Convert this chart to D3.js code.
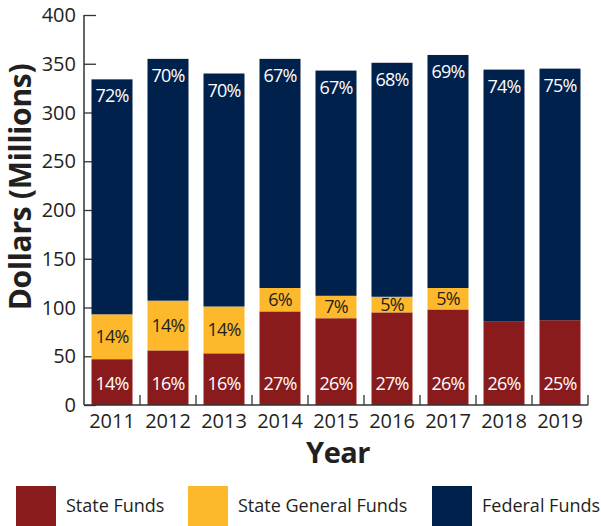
<!DOCTYPE html>
<html>
<head>
<meta charset="utf-8">
<script src="https://cdn.jsdelivr.net/npm/d3@7"></script>
<style>
  body { margin: 0; background: #fff; }
  text { font-family: "Open Sans", "Noto Sans", sans-serif; }
</style>
</head>
<body>
<div id="chart"></div>
<script>
const years = ["2011", "2012", "2013", "2014", "2015", "2016", "2017", "2018", "2019"];
const stateFunds = [47, 56, 53, 96, 89, 95, 98, 86, 87];
const generalFunds = [46, 51, 48, 24, 23, 16, 22, 0, 0];
const federalFunds = [241, 248, 239, 235, 231, 240, 239, 258, 258];
const statePct = ["14%", "16%", "16%", "27%", "26%", "27%", "26%", "26%", "25%"];
const generalPct = ["14%", "14%", "14%", "6%", "7%", "5%", "5%", "", ""];
const federalPct = ["72%", "70%", "70%", "67%", "67%", "68%", "69%", "74%", "75%"];
const yTicks = [0, 50, 100, 150, 200, 250, 300, 350, 400];

const seriesNames = ["State Funds", "State General Funds", "Federal Funds"];
const colors = ["#8a1b1c", "#fdb82b", "#01214d"];

const width = 601, height = 526;
const svg = d3.select("#chart").append("svg")
    .attr("width", width)
    .attr("height", height);

const x = d3.scaleBand()
    .domain(years)
    .range([84, 588])
    .paddingInner(0.268)
    .paddingOuter(0.134);

const y = d3.scaleLinear()
    .domain([0, 400])
    .range([405, 15]);

// build stacked table
const rows = years.map((yr, i) => ({
    year: yr,
    state: stateFunds[i],
    general: generalFunds[i],
    federal: federalFunds[i]
}));
const stack = d3.stack().keys(["state", "general", "federal"]);
const layers = stack(rows);
const pcts = [statePct, generalPct, federalPct];

// y axis ticks (inward)
const yAxis = svg.append("g")
    .attr("transform", "translate(84,0)")
    .call(d3.axisRight(y).tickValues(yTicks).tickSize(12).tickFormat(""));
yAxis.select(".domain").remove();
yAxis.selectAll("line").attr("stroke", "#333").attr("stroke-width", 1.3);

svg.selectAll(".ylab")
    .data(yTicks)
    .enter().append("text")
    .attr("x", 76)
    .attr("y", d => y(d))
    .attr("dy", "0.35em")
    .attr("text-anchor", "end")
    .attr("font-size", 20)
    .attr("fill", "#231f20")
    .text(d => d);

// bars
svg.selectAll(".layer")
    .data(layers)
    .enter().append("g")
    .attr("fill", (d, i) => colors[i])
    .selectAll("rect")
    .data(d => d)
    .enter().append("rect")
    .attr("x", d => x(d.data.year))
    .attr("y", d => y(d[1]))
    .attr("width", x.bandwidth())
    .attr("height", d => y(d[0]) - y(d[1]));

// axis lines
svg.append("line")
    .attr("x1", 84).attr("x2", 84)
    .attr("y1", y(400)).attr("y2", y(0))
    .attr("stroke", "#333").attr("stroke-width", 1.5);
svg.append("line")
    .attr("x1", 84).attr("x2", 588)
    .attr("y1", y(0)).attr("y2", y(0))
    .attr("stroke", "#333").attr("stroke-width", 1.5);

// x ticks at band boundaries, pointing up
const bounds = years.map(yr => x(yr) - x.step() * x.paddingInner() / 2).concat([588]);
svg.selectAll(".xtick")
    .data(bounds.slice(1))
    .enter().append("line")
    .attr("x1", d => d).attr("x2", d => d)
    .attr("y1", y(0) - 10).attr("y2", y(0))
    .attr("stroke", "#333").attr("stroke-width", 1.3);

svg.selectAll(".xlab")
    .data(years)
    .enter().append("text")
    .attr("x", d => x(d) + x.bandwidth() / 2)
    .attr("y", 428)
    .attr("text-anchor", "middle")
    .attr("font-size", 20)
    .attr("fill", "#231f20")
    .text(d => d);

// percentage labels
layers.forEach((layer, li) => {
    svg.selectAll(".pct" + li)
        .data(layer)
        .enter().append("text")
        .attr("x", d => x(d.data.year) + x.bandwidth() / 2)
        .attr("y", d => {
            if (li === 0) return 390;
            if (li === 1) return (y(d[0]) + y(d[1])) / 2 + 6;
            return y(d[1]) + 23;
        })
        .attr("text-anchor", "middle")
        .attr("font-size", 18)
        .attr("letter-spacing", -0.8)
        .attr("fill", li === 1 ? "#231f20" : "#fff")
        .text((d, i) => pcts[li][i]);
});

// axis titles
svg.append("text")
    .attr("transform", "translate(31,187) rotate(-90)")
    .attr("text-anchor", "middle")
    .attr("font-size", 30)
    .attr("font-weight", "bold")
    .attr("letter-spacing", -0.3)
    .attr("fill", "#231f20")
    .text("Dollars (Millions)");

svg.append("text")
    .attr("x", 338)
    .attr("y", 463)
    .attr("text-anchor", "middle")
    .attr("font-size", 29)
    .attr("font-weight", "bold")
    .attr("letter-spacing", -0.5)
    .attr("fill", "#231f20")
    .text("Year");

// legend
const legendX = [16, 188, 432];
const legend = svg.selectAll(".legend")
    .data(seriesNames)
    .enter().append("g")
    .attr("transform", (d, i) => `translate(${legendX[i]},486)`);
legend.append("rect")
    .attr("width", 40).attr("height", 40)
    .attr("fill", (d, i) => colors[i]);
legend.append("text")
    .attr("x", 50)
    .attr("y", 20)
    .attr("dy", "0.35em")
    .attr("font-size", 18)
    .attr("fill", "#231f20")
    .text(d => d);
</script>
</body>
</html>
